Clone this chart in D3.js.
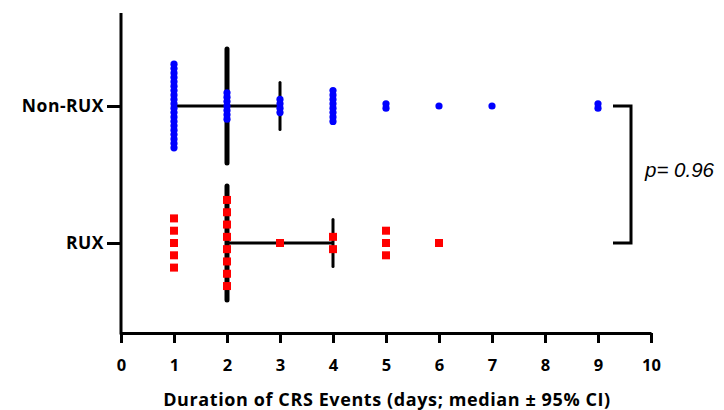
<!DOCTYPE html>
<html><head><meta charset="utf-8">
<script src="https://cdn.jsdelivr.net/npm/d3@7"></script>
<style>body{margin:0;background:#fff}</style>
</head><body>
<svg id="c" width="724" height="410"></svg>
<script>
const groups = ["Non-RUX", "RUX"];
const days = [1, 2, 3, 4, 5, 6, 7, 8, 9];
const nonRuxCounts = [20, 7, 4, 8, 2, 1, 1, 0, 2];
const ruxCounts = [5, 8, 1, 2, 3, 1, 0, 0, 0];
const medians = [2, 2];
const ciLow = [1, 2];
const ciHigh = [3, 4];
const xTicks = [0, 1, 2, 3, 4, 5, 6, 7, 8, 9, 10];
const pLabel = "p= 0.96";
const xTitle = "Duration of CRS Events (days; median \u00B1 95% CI)";

const svg = d3.select("#c");
const x = d3.scaleLinear().domain([0, 10]).range([121, 651]);
const y = d3.scalePoint().domain(groups).range([106, 243]);
const font = "'Open Sans', sans-serif";

// x axis
const xa = svg.append("g").attr("transform", "translate(0,333)")
  .call(d3.axisBottom(x).tickValues(xTicks).tickSize(10).tickSizeOuter(0).tickPadding(16));
xa.select(".domain").attr("stroke", "#000").attr("stroke-width", 3);
xa.selectAll(".tick line").attr("stroke", "#000").attr("stroke-width", 3);
xa.selectAll(".tick text").attr("font-family", font).attr("font-weight", "bold")
  .attr("font-size", 16.5).attr("fill", "#000");

// y axis
svg.append("line").attr("x1", 121).attr("x2", 121).attr("y1", 13).attr("y2", 334.5)
  .attr("stroke", "#000").attr("stroke-width", 3);
const ya = svg.append("g").attr("transform", "translate(121,0)")
  .call(d3.axisLeft(y).tickSize(14).tickPadding(3));
ya.select(".domain").remove();
ya.selectAll(".tick line").attr("stroke", "#000").attr("stroke-width", 3);
ya.selectAll(".tick text").attr("font-family", font).attr("font-weight", "bold")
  .attr("font-size", 17.5).attr("letter-spacing", 0.5).attr("fill", "#000");

// x title
svg.append("text").attr("x", 387).attr("y", 406).attr("text-anchor", "middle")
  .attr("font-family", font).attr("font-weight", "bold").attr("font-size", 18)
  .attr("letter-spacing", 0.6)
  .text(xTitle);

// median & CI
groups.forEach((g, i) => {
  const cy = y(g);
  svg.append("line").attr("x1", x(ciLow[i])).attr("x2", x(ciHigh[i]))
    .attr("y1", cy).attr("y2", cy).attr("stroke", "#000").attr("stroke-width", 3);
  [ciLow[i], ciHigh[i]].forEach(v => {
    svg.append("line").attr("x1", x(v)).attr("x2", x(v))
      .attr("y1", cy - 23.5).attr("y2", cy + 23.5)
      .attr("stroke", "#000").attr("stroke-width", 3).attr("stroke-linecap", "round");
  });
  svg.append("line").attr("x1", x(medians[i])).attr("x2", x(medians[i]))
    .attr("y1", cy - 57).attr("y2", cy + 57)
    .attr("stroke", "#000").attr("stroke-width", 5).attr("stroke-linecap", "round");
});

// points
const blueStep = 4.4, redStep = 12.3;
days.forEach((d, j) => {
  const n = nonRuxCounts[j];
  for (let k = 0; k < n; k++) {
    svg.append("circle").attr("cx", x(d))
      .attr("cy", y("Non-RUX") + (k - (n - 1) / 2) * blueStep)
      .attr("r", 3.6).attr("fill", "#0000ff");
  }
  const m = ruxCounts[j];
  for (let k = 0; k < m; k++) {
    svg.append("rect").attr("x", x(d) - 4)
      .attr("y", y("RUX") + (k - (m - 1) / 2) * redStep - 4)
      .attr("width", 8).attr("height", 8).attr("fill", "#ff0000");
  }
});

// bracket
svg.append("path")
  .attr("d", `M613,${y("Non-RUX")}H631V${y("RUX")}H613`)
  .attr("fill", "none").attr("stroke", "#000").attr("stroke-width", 3);
svg.append("text").attr("x", 645).attr("y", 177)
  .attr("font-family", "'Liberation Sans', Arial, sans-serif").attr("font-style", "italic")
  .attr("font-size", 20.5).text(pLabel);
</script>
</body></html>
